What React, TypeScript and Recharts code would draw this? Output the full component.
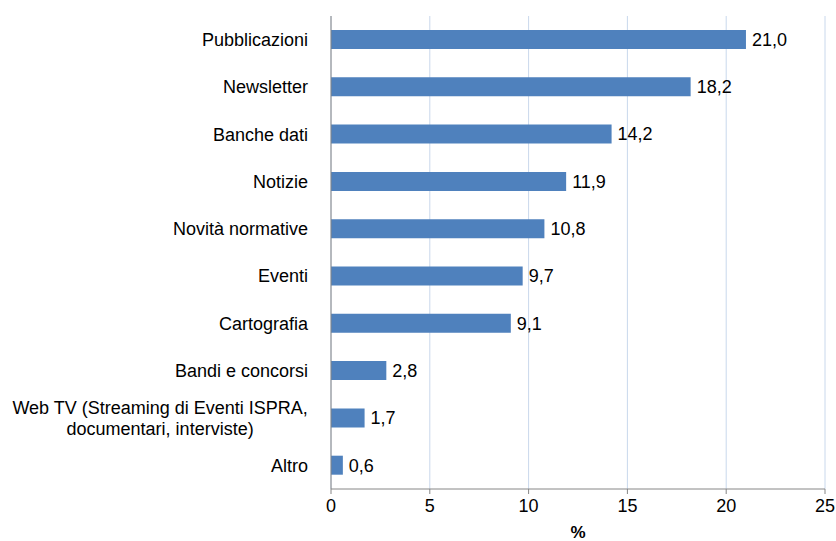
import React from "react";
import { BarChart, Bar, XAxis, YAxis, CartesianGrid, LabelList, Label } from "recharts";

const CATEGORIES = [
  "Pubblicazioni",
  "Newsletter",
  "Banche dati",
  "Notizie",
  "Novità normative",
  "Eventi",
  "Cartografia",
  "Bandi e concorsi",
  "Web TV (Streaming di Eventi ISPRA,\ndocumentari, interviste)",
  "Altro",
];
const VALUES = [21.0, 18.2, 14.2, 11.9, 10.8, 9.7, 9.1, 2.8, 1.7, 0.6];
const X_TICKS = [0, 5, 10, 15, 20, 25];

const FONT = "'Liberation Sans', Arial, sans-serif";
const FONT_SIZE = 18;
const BAR_COLOR = "#4f81bd";
const AXIS_COLOR = "#868686";
const GRID_COLOR = "#c9d8ec";

const data = CATEGORIES.map((name, i) => ({ name, value: VALUES[i] }));

const formatValue = (v: number) => v.toFixed(1).replace(".", ",");

let ctx: CanvasRenderingContext2D | null = null;
const measure = (s: string) => {
  if (!ctx) ctx = document.createElement("canvas").getContext("2d");
  if (!ctx) return s.length * FONT_SIZE * 0.5;
  ctx.font = `${FONT_SIZE}px ${FONT}`;
  return ctx.measureText(s).width;
};

// category labels: single lines right-aligned, wrapped ones centred on each other
const CategoryTick = (props: any) => {
  const { x, y, payload } = props;
  const lines: string[] = String(payload.value).split("\n");
  if (lines.length === 1) {
    return (
      <text x={x} y={y} dy="0.35em" textAnchor="end" fontSize={FONT_SIZE} fontFamily={FONT} fill="#000">
        {lines[0]}
      </text>
    );
  }
  const w = Math.max(...lines.map(measure));
  const lh = 21;
  return (
    <text textAnchor="middle" fontSize={FONT_SIZE} fontFamily={FONT} fill="#000">
      {lines.map((l, i) => (
        <tspan key={i} x={x - w / 2} y={y + (i - (lines.length - 1) / 2) * lh} dy="0.35em">
          {l}
        </tspan>
      ))}
    </text>
  );
};

export default function App() {
  return (
    <div style={{ position: "absolute", left: 0, top: 0, background: "#fff" }}>
      <BarChart
        width={836}
        height={541}
        data={data}
        layout="vertical"
        margin={{ top: 16, right: 11, bottom: 0, left: 0 }}
      >
        <CartesianGrid horizontal={false} vertical stroke={GRID_COLOR} />
        <XAxis
          type="number"
          domain={[0, 25]}
          ticks={X_TICKS}
          interval={0}
          height={52}
          tickSize={5}
          tickMargin={5}
          stroke={AXIS_COLOR}
          tick={{ fill: "#000", fontSize: FONT_SIZE, fontFamily: FONT }}
        >
          <Label
            value="%"
            position="insideBottom"
            offset={3}
            style={{ fill: "#000", fontSize: 17, fontFamily: FONT, fontWeight: "bold" }}
          />
        </XAxis>
        <YAxis
          type="category"
          dataKey="name"
          width={331}
          tickSize={0}
          tickMargin={23}
          interval={0}
          stroke={AXIS_COLOR}
          tick={<CategoryTick />}
        />
        <Bar dataKey="value" fill={BAR_COLOR} barSize={19} isAnimationActive={false}>
          <LabelList
            dataKey="value"
            position="right"
            offset={6}
            formatter={(v: any) => formatValue(Number(v))}
            style={{ fill: "#000", fontSize: FONT_SIZE, fontFamily: FONT }}
          />
        </Bar>
      </BarChart>
    </div>
  );
}
